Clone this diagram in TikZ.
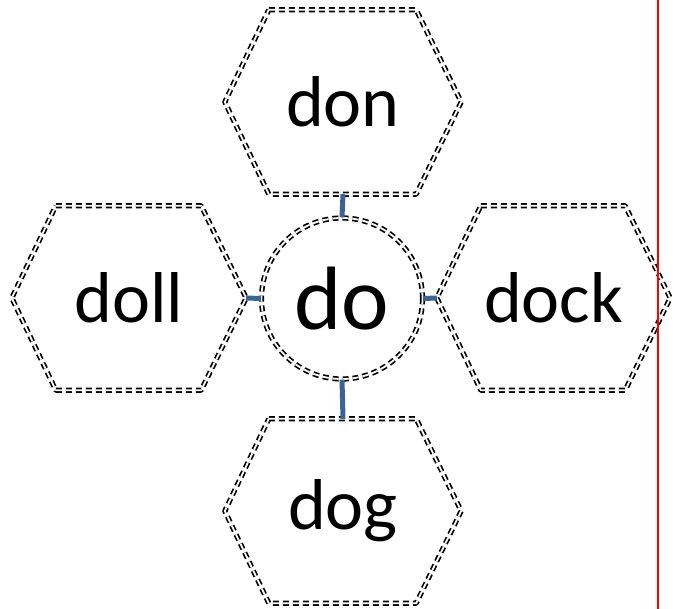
\documentclass[tikz,border=0pt]{standalone}
\usepackage{fontspec}
\setmainfont{Carlito}
\usetikzlibrary{calc}
\definecolor{linkblue}{HTML}{3B6496}
\tikzset{
  x=1pt, y=-1pt,
  hexbox/.style={draw=none, minimum width=236pt, minimum height=184pt, inner sep=0pt, font=\fontsize{72}{80}\selectfont},
  dbl/.style={draw=black, double=white, line width=1.7pt, double distance=1.8pt, dash pattern=on 6pt off 4pt, line join=round},
  link/.style={draw=linkblue, line width=5pt}
}
\newcommand{\hexdraw}[1]{%
  \draw[dbl] ($(#1.north west)+(44,0)$) -- ($(#1.north east)+(-45,0)$) -- (#1.east)
    -- ($(#1.south east)+(-45,0)$) -- ($(#1.south west)+(44,0)$) -- (#1.west) -- cycle;}
\begin{document}
\begin{tikzpicture}
\useasboundingbox (0,0) rectangle (674,609);
\node[hexbox] (don) at (343,102) {don};
\node[hexbox, minimum width=234pt] (doll) at (129,298) {doll};
\node[hexbox, minimum width=233pt] (dock) at (553.5,298) {dock};
\node[hexbox] (dog) at (343,511) {dog};
\node[circle, minimum size=162pt, inner sep=0pt, font=\fontsize{90}{100}\selectfont] (do) at (342,298.5) {do};
\hexdraw{don}
\hexdraw{doll}
\hexdraw{dock}
\hexdraw{dog}
\draw[dbl] (do) circle (80.5pt);
\draw[link] (don.south) -- (do.north);
\draw[link] (doll.east) -- (do.west);
\draw[link] (do.east) -- (dock.west);
\draw[link] (do.south) -- (dog.north);
\coordinate (rt) at (658,0);
\coordinate (rb) at (658,609);
\draw[red, line width=2pt] (rt) -- (rb);
\end{tikzpicture}
\end{document}
